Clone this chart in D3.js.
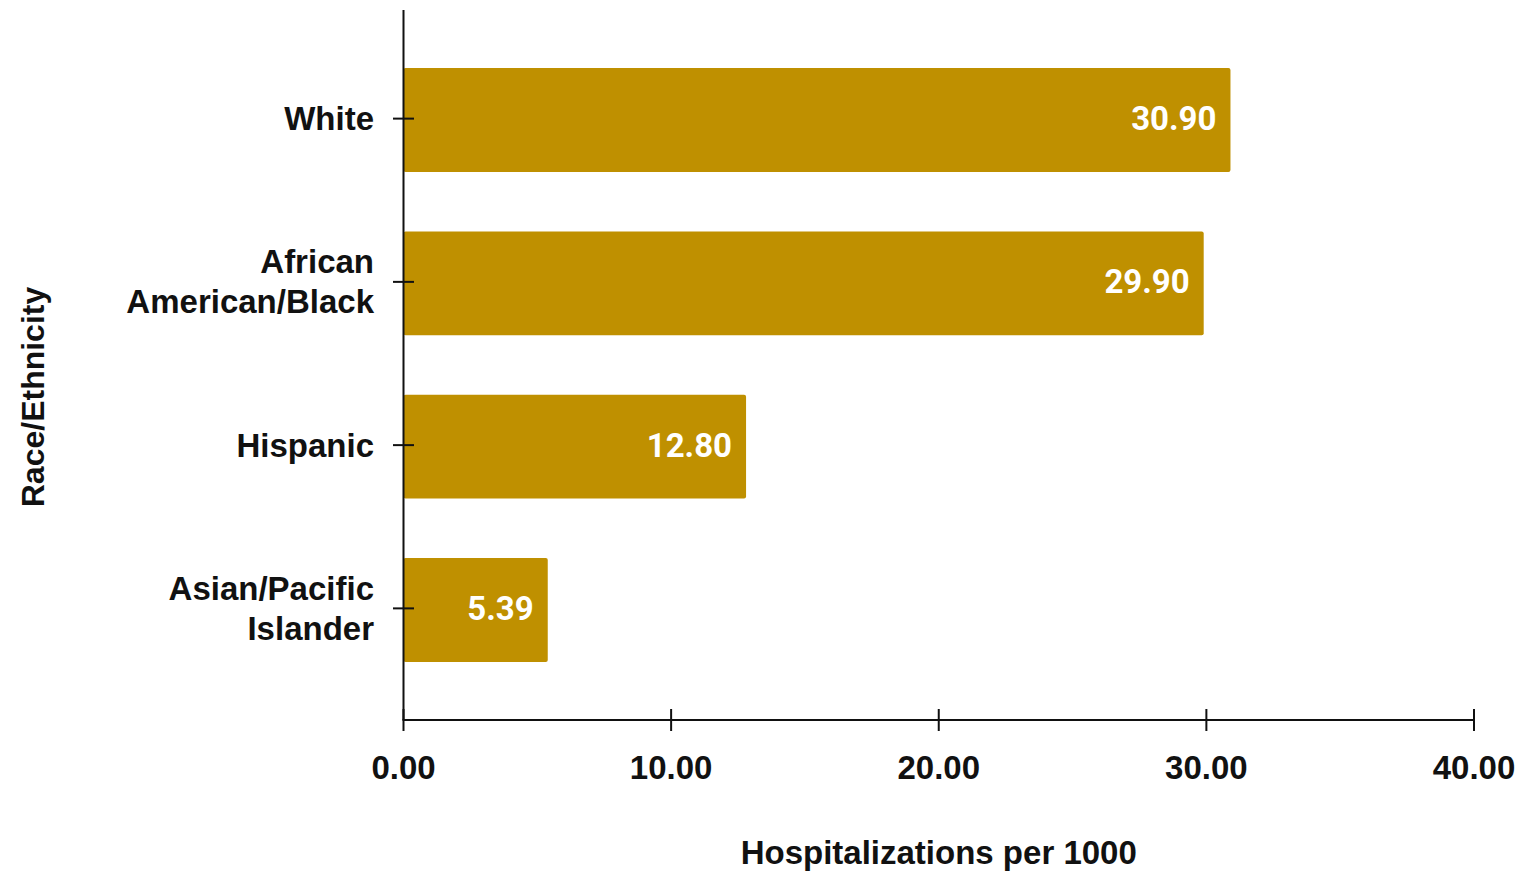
<!DOCTYPE html>
<html>
<head>
<meta charset="utf-8">
<script src="https://cdn.jsdelivr.net/npm/d3@7"></script>
<style>
  html, body { margin: 0; padding: 0; background: #fff; }
  svg { display: block; }
</style>
</head>
<body>
<svg id="chart" width="1526" height="872"></svg>
<script>
const categories = ["White", "African American/Black", "Hispanic", "Asian/Pacific Islander"];
const categoryLines = [["White"], ["African", "American/Black"], ["Hispanic"], ["Asian/Pacific", "Islander"]];
const values = [30.90, 29.90, 12.80, 5.39];
const xTicks = [0, 10, 20, 30, 40];
const xTitle = "Hospitalizations per 1000";
const yTitle = "Race/Ethnicity";

const svg = d3.select("#chart");
const labelFont = "'Liberation Sans', Arial, sans-serif";
const valueFont = "Roboto, 'Open Sans', sans-serif";
const barColor = "#bf9000";

const x = d3.scaleLinear().domain([0, 40]).range([403.5, 1474]);
const y = d3.scaleBand().domain(categories).range([10, 720]).paddingInner(0.363).paddingOuter(0.356);

// bars
svg.append("g").selectAll("rect").data(values).join("rect")
  .attr("x", x(0))
  .attr("y", (d, i) => y(categories[i]))
  .attr("width", d => x(d) - x(0))
  .attr("height", y.bandwidth())
  .attr("rx", 2)
  .attr("fill", barColor);

// value labels
svg.append("g").selectAll("text").data(values).join("text")
  .attr("x", d => x(d) - 14)
  .attr("y", (d, i) => y(categories[i]) + y.bandwidth() / 2)
  .attr("dy", "0.3em")
  .attr("text-anchor", "end")
  .attr("font-family", valueFont)
  .attr("font-weight", "bold")
  .attr("font-size", 33)
  .attr("fill", "#fff")
  .text(d => d.toFixed(2));

// y axis
const yAxis = svg.append("g");
yAxis.append("line")
  .attr("x1", x(0)).attr("x2", x(0))
  .attr("y1", 10).attr("y2", 720)
  .attr("stroke", "#111").attr("stroke-width", 2);
yAxis.selectAll("line.tick").data(categories).join("line")
  .attr("class", "tick")
  .attr("x1", 393).attr("x2", 414)
  .attr("y1", d => y(d) + y.bandwidth() / 2 - 1.5)
  .attr("y2", d => y(d) + y.bandwidth() / 2 - 1.5)
  .attr("stroke", "#111").attr("stroke-width", 2);
yAxis.selectAll("text").data(categories).join("text")
  .attr("x", 374)
  .attr("y", d => y(d) + y.bandwidth() / 2)
  .attr("text-anchor", "end")
  .attr("font-family", labelFont)
  .attr("font-weight", "bold")
  .attr("font-size", 33)
  .attr("fill", "#111")
  .each(function(d, i) {
    const lines = categoryLines[i];
    const lh = 40;
    const start = -((lines.length - 1) * lh) / 2;
    d3.select(this).selectAll("tspan").data(lines).join("tspan")
      .attr("x", 374)
      .attr("y", (l, j) => y(d) + y.bandwidth() / 2 + start + j * lh)
      .attr("dy", "0.3em")
      .text(l => l);
  });

// x axis
const xAxis = svg.append("g");
xAxis.append("line")
  .attr("x1", x(0) - 1).attr("x2", x(40))
  .attr("y1", 720).attr("y2", 720)
  .attr("stroke", "#111").attr("stroke-width", 2);
xAxis.selectAll("line.tick").data(xTicks).join("line")
  .attr("class", "tick")
  .attr("x1", d => x(d)).attr("x2", d => x(d))
  .attr("y1", 709).attr("y2", 731)
  .attr("stroke", "#111").attr("stroke-width", 2);
xAxis.selectAll("text").data(xTicks).join("text")
  .attr("x", d => x(d))
  .attr("y", 779)
  .attr("text-anchor", "middle")
  .attr("font-family", labelFont)
  .attr("font-weight", "bold")
  .attr("font-size", 33)
  .attr("fill", "#111")
  .text(d => d.toFixed(2));

// titles
svg.append("text")
  .attr("x", x(20))
  .attr("y", 864)
  .attr("text-anchor", "middle")
  .attr("font-family", labelFont)
  .attr("font-weight", "bold")
  .attr("font-size", 33)
  .attr("fill", "#111")
  .text(xTitle);

svg.append("text")
  .attr("transform", "translate(44,397) rotate(-90)")
  .attr("text-anchor", "middle")
  .attr("font-family", labelFont)
  .attr("font-weight", "bold")
  .attr("font-size", 32)
  .attr("fill", "#111")
  .text(yTitle);
</script>
</body>
</html>
